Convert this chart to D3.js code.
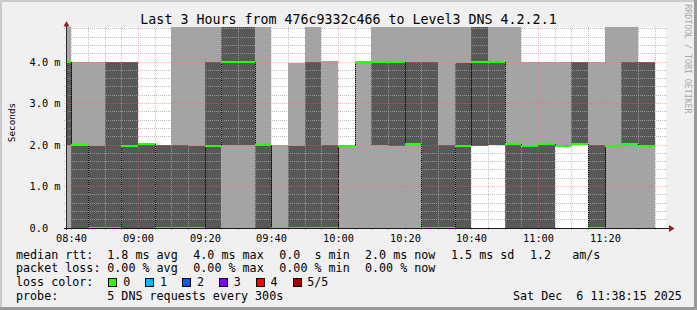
<!DOCTYPE html>
<html>
<head>
<meta charset="utf-8">
<script src="https://cdn.jsdelivr.net/npm/d3@7/dist/d3.min.js"></script>
<style>
html,body{margin:0;padding:0;background:#f0f0f0;overflow:hidden;}
svg{display:block;}
text{font-family:"DejaVu Sans Mono",monospace;fill:#000;white-space:pre;}
</style>
</head>
<body>
<svg id="chart" width="697" height="310"></svg>
<script>
// ---------------- data ----------------
const times = ["08:35","08:40","08:45","08:50","08:55","09:00","09:05","09:10","09:15","09:20","09:25","09:30","09:35","09:40","09:45","09:50","09:55","10:00","10:05","10:10","10:15","10:20","10:25","10:30","10:35","10:40","10:45","10:50","10:55","11:00","11:05","11:10","11:15","11:20","11:25","11:30"];
// sorted ping times in ms (5.5 = above the top of the chart)
const ping1  = [0,0,0,0,0, 0,0,0,0,0, 0,0,0,0,0, 0,0,0,0,0, 0,0,0,0,0, 1.97,2,0,0,0, 1.97,2.02,0,0,0, 0];
const ping2  = [2,0,0,0,0, 0,0,0,0,0, 2,2,0,0,0, 0,0,1.97,4,2, 1.97,2.02,0,0,0, 1.97,2,0,0,0, 1.97,2.02,0,1.97,2.02, 1.97];
const median = [4,2,0,0,1.97, 2.02,0,0,0,1.97, 4,4,2,0,0, 0,0,1.97,4,4, 4,2.02,0,0,1.97, 4,4,2.02,1.97,2.02, 1.97,2.02,0,1.97,2.02, 1.97];
const ping4  = [4,2,1.97,4,4, 2.02,2,2,1.97,4, 5.5,5.5,2,0,1.97, 4,2,1.97,4,4, 4,4,4,2,3.97, 5.5,4,2.02,1.97,2.02, 1.97,4,2,1.97,4, 4];
const ping5  = [5.5,4,4,4,4, 2.02,2,5.5,5.5,5.5, 5.5,5.5,5.5,2,3.97, 5.5,4.03,1.97,4,5.5, 5.5,5.5,5.5,5.5,5.5, 5.5,5.5,5.5,4,4, 4,4,4,5.5,5.5, 4];

const xTickLabels = ["08:40","09:00","09:20","09:40","10:00","10:20","10:40","11:00","11:20"];
const yTickValues = [0,1,2,3,4];
const yTickLabels = ["0.0","1.0 m","2.0 m","3.0 m","4.0 m"];

const titleText = "Last 3 Hours from 476c9332c466 to Level3 DNS 4.2.2.1";
const rttLegend  = ["median rtt:","1.8 ms avg","4.0 ms max","0.0  s min","2.0 ms now","1.5 ms sd","1.2   am/s"];
const lossLegend = ["packet loss:","0.00 % avg","0.00 % max","0.00 % min","0.00 % now"];
const lossColorTitle = "loss color:";
const lossLabels = ["0","1","2","3","4","5/5"];
const lossColors = ["#26ff00","#00b8ff","#0059ff","#7e00ff","#ff0000","#a10000"];
const probeLegend = ["probe:","5 DNS requests every 300s"];
const dateText = "Sat Dec  6 11:38:15 2025";
const watermark = "RRDTOOL / TOBI OETIKER";

// ---------------- layout ----------------
const W = 697, H = 310;
const L = 66, R = 666, T = 27, B = 228;
const parseT = d3.timeParse("%H:%M:%S");
const tStart = parseT("08:38:15"), tEnd = parseT("11:38:15");
const x = d3.scaleTime().domain([tStart, tEnd]).range([L, R]);
const y = d3.scaleLinear().domain([0, 4.845]).range([B, T]).clamp(true);
const fx = d => Math.floor(x(d));
const fy = v => Math.floor(y(v));

const svg = d3.select("#chart");
svg.append("rect").attr("width", W).attr("height", H).attr("fill", "#f0f0f0");
// frame shading
const sh = svg.append("g").attr("shape-rendering", "crispEdges");
sh.append("rect").attr("x",0).attr("y",0).attr("width",W).attr("height",2).attr("fill","#cbcbcb");
sh.append("rect").attr("x",0).attr("y",0).attr("width",2).attr("height",H).attr("fill","#cbcbcb");
sh.append("rect").attr("x",0).attr("y",H-3).attr("width",W).attr("height",3).attr("fill","#999999");
sh.append("rect").attr("x",W-3).attr("y",0).attr("width",3).attr("height",H).attr("fill","#999999");

// canvas
svg.append("rect").attr("x", L).attr("y", T).attr("width", R - L).attr("height", B - T).attr("fill", "#ffffff");

const cols = times.map((t, i) => {
  const s = parseT(t + ":00");
  return { s: s < tStart ? tStart : s, e: d3.timeMinute.offset(s, 5),
           p1: ping1[i], p2: ping2[i], m: median[i], p4: ping4[i], p5: ping5[i] };
});

const g = svg.append("g").attr("shape-rendering", "crispEdges");
// outer smoke (ping1..ping5)
g.selectAll("rect.lt").data(cols).join("rect").attr("class","lt")
  .attr("x", d => fx(d.s)).attr("width", d => fx(d.e) - fx(d.s))
  .attr("y", d => y(d.p5)).attr("height", d => y(d.p1) - y(d.p5))
  .attr("fill", "#a4a4a4");
// inner smoke (ping2..ping4)
g.selectAll("rect.dk").data(cols).join("rect").attr("class","dk")
  .attr("x", d => fx(d.s)).attr("width", d => fx(d.e) - fx(d.s))
  .attr("y", d => y(d.p4)).attr("height", d => y(d.p2) - y(d.p4))
  .attr("fill", "#585858");
// black median transitions
g.selectAll("line.tr").data(cols.slice(1).map((d, i) => ({ d, prev: cols[i] })).filter(o => o.d.m !== o.prev.m))
  .join("line").attr("class","tr")
  .attr("x1", o => fx(o.d.s) + 0.5).attr("x2", o => fx(o.d.s) + 0.5)
  .attr("y1", o => y(o.prev.m)).attr("y2", o => y(o.d.m))
  .attr("stroke", "#000").attr("stroke-width", 1);

// grid (dotted, 1 on / 1 off)
const grid = svg.append("g").attr("stroke-dasharray", "1,1").attr("stroke-width", 1);
const minorCol = "rgba(170,170,170,0.75)", majorCol = "rgba(255,95,95,0.45)";
const minorY = d3.range(1, 25).map(i => i * 0.2).filter(v => Math.abs(v - Math.round(v)) > 1e-6);
grid.selectAll("line.hmin").data(minorY).join("line").attr("class","hmin")
  .attr("x1", L - 2).attr("x2", R + 2).attr("y1", v => fy(v) + 0.5).attr("y2", v => fy(v) + 0.5)
  .attr("stroke", minorCol);
const minorX = d3.timeMinute.every(5).range(parseT("08:40:00"), tEnd);
grid.selectAll("line.vmin").data(minorX.filter(t => t.getMinutes() % 20 !== 0)).join("line").attr("class","vmin")
  .attr("x1", t => fx(t) + 0.5).attr("x2", t => fx(t) + 0.5).attr("y1", T).attr("y2", B + 3)
  .attr("stroke", minorCol);
grid.selectAll("line.hmaj").data(yTickValues.slice(1)).join("line").attr("class","hmaj")
  .attr("x1", L - 2).attr("x2", R + 2).attr("y1", v => fy(v) + 0.5).attr("y2", v => fy(v) + 0.5)
  .attr("stroke", majorCol);
const majorX = xTickLabels.map(s => parseT(s + ":00"));
grid.selectAll("line.vmaj").data(majorX).join("line").attr("class","vmaj")
  .attr("x1", t => fx(t) + 0.5).attr("x2", t => fx(t) + 0.5).attr("y1", T).attr("y2", B + 3)
  .attr("stroke", majorCol);

// green median segments (on top)
svg.append("g").attr("shape-rendering", "crispEdges")
  .selectAll("line.md").data(cols).join("line").attr("class","md")
  .attr("x1", d => fx(d.s)).attr("x2", d => fx(d.e))
  .attr("y1", d => y(d.m)).attr("y2", d => y(d.m))
  .attr("stroke", lossColors[0]).attr("stroke-width", 2);

// axes
const ax = svg.append("g").attr("shape-rendering", "crispEdges");
ax.append("line").attr("x1", L - 2).attr("x2", R + 3).attr("y1", B + 0.5).attr("y2", B + 0.5).attr("stroke", "#1a1a1a");
ax.append("line").attr("x1", L + 0.5).attr("x2", L + 0.5).attr("y1", B + 2).attr("y2", T - 1).attr("stroke", "#2a2a2a");
svg.append("path").attr("d", `M${R+3},${B-3} L${R+8.5},${B+0.5} L${R+3},${B+4} Z`).attr("fill", "#a01818");
svg.append("path").attr("d", `M${L-2.5},${T-0.5} L${L+0.5},${T-6} L${L+3.5},${T-0.5} Z`).attr("fill", "#a01818");

// axis labels
svg.selectAll("text.xl").data(xTickLabels).join("text").attr("class","xl")
  .attr("x", (s, i) => fx(majorX[i]) + 0.5).attr("y", 242).attr("text-anchor", "middle")
  .attr("font-size", "10.3px").text(s => s);
svg.selectAll("text.yl").data(yTickLabels).join("text").attr("class","yl")
  .attr("x", 29.5).attr("y", (s, i) => fy(yTickValues[i]) + 4.2)
  .attr("font-size", "10.3px").text(s => s);
svg.append("text").attr("transform", "translate(14.5,122.5) rotate(-90)").attr("text-anchor", "middle")
  .attr("font-size", "9.4px").text("Seconds");
svg.append("text").attr("transform", "translate(685.3,4.3) rotate(90)")
  .attr("font-size", "8.25px").style("fill", "#a8a8a8").text(watermark);

// title
svg.append("text").attr("x", 348.5).attr("y", 24).attr("text-anchor", "middle").attr("font-size", "13.3px").text(titleText);

// legend
const legendX = [16, 107.3, 193.3, 279.3, 365, 451, 530];
const rowY = [258.5, 272.3, 286.1, 299.9];
const lg = svg.append("g").attr("font-size", "11.7px");
lg.selectAll("text.r1").data(rttLegend).join("text").attr("class","r1")
  .attr("x", (s, i) => legendX[i]).attr("y", rowY[0]).text(s => s);
lg.selectAll("text.r2").data(lossLegend).join("text").attr("class","r2")
  .attr("x", (s, i) => legendX[i]).attr("y", rowY[1]).text(s => s);
lg.append("text").attr("x", legendX[0]).attr("y", rowY[2]).text(lossColorTitle);
lg.selectAll("rect.lc").data(lossColors).join("rect").attr("class","lc")
  .attr("x", (c, i) => Math.round(108.3 + 37 * i) + 0.5).attr("y", 278.5).attr("width", 8).attr("height", 8)
  .attr("fill", c => c).attr("stroke", "#000").attr("shape-rendering", "crispEdges");
lg.selectAll("text.ll").data(lossLabels).join("text").attr("class","ll")
  .attr("x", (s, i) => 123.3 + 36.8 * i).attr("y", rowY[2]).text(s => s);
lg.selectAll("text.r4").data(probeLegend).join("text").attr("class","r4")
  .attr("x", (s, i) => legendX[i]).attr("y", rowY[3]).text(s => s);
lg.append("text").attr("x", 513).attr("y", rowY[3]).text(dateText);
</script>
</body>
</html>
